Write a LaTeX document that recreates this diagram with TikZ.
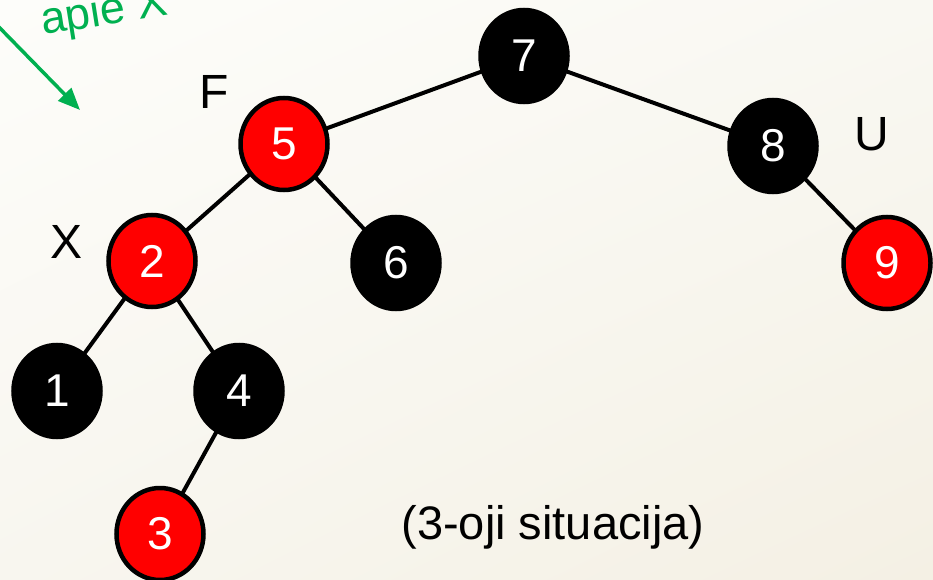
\documentclass[tikz,border=0pt]{standalone}
\usepackage{fontspec}
\setmainfont{Liberation Sans}
\usetikzlibrary{shapes.geometric,arrows.meta,shadings}
\definecolor{bgUL}{HTML}{FDFDFA}
\definecolor{bgUR}{HTML}{F9F8F2}
\definecolor{bgLL}{HTML}{F8F6EF}
\definecolor{bgLR}{HTML}{F4F0E4}
\definecolor{rbred}{HTML}{FF0000}
\definecolor{notegreen}{HTML}{00B050}
\tikzset{
  rbnode/.style={ellipse, minimum width=87pt, minimum height=92pt, inner sep=0pt,
    line width=4.5pt, draw=black, text=white, font=\fontsize{46}{50}\selectfont},
  blacknode/.style={rbnode, fill=black},
  rednode/.style={rbnode, fill=rbred},
  tag/.style={inner sep=0pt, font=\fontsize{48}{52}\selectfont, text=black},
  treeedge/.style={line width=4pt, draw=black},
  noteedge/.style={line width=3.5pt, draw=notegreen, -{Triangle[length=22pt,width=18pt]}}
}
\begin{document}
\begin{tikzpicture}[x=1pt,y=-1pt]
\useasboundingbox (0,0) rectangle (933,580);
\shade[upper left=bgUL, upper right=bgUR, lower left=bgLL, lower right=bgLR] (0,0) rectangle (933,580);
% tree edges drawn first
\coordinate (c7) at (524,56);
\coordinate (c5) at (284,144);
\coordinate (c8) at (773,146);
\coordinate (c2) at (152,261);
\coordinate (c6) at (396,263);
\coordinate (c9) at (887,263);
\coordinate (c1) at (57,391);
\coordinate (c4) at (239,391);
\coordinate (c3) at (160,534);
\draw[treeedge] (c7) -- (c5);
\draw[treeedge] (c7) -- (c8);
\draw[treeedge] (c5) -- (c2);
\draw[treeedge] (c5) -- (c6);
\draw[treeedge] (c8) -- (c9);
\draw[treeedge] (c2) -- (c1);
\draw[treeedge] (c2) -- (c4);
\draw[treeedge] (c4) -- (c3);
% nodes
\node[blacknode] (n7) at (c7) {7};
\node[rednode]   (n5) at (c5) {5};
\node[blacknode] (n8) at (c8) {8};
\node[rednode]   (n2) at (c2) {2};
\node[blacknode] (n6) at (c6) {6};
\node[rednode]   (n9) at (c9) {9};
\node[blacknode] (n1) at (c1) {1};
\node[blacknode] (n4) at (c4) {4};
\node[rednode]   (n3) at (c3) {3};
% labels
\node[tag] (lF) at (214,92) {F};
\node[tag] (lU) at (872,134) {U};
\node[tag] (lX) at (67,242) {X};
\node[inner sep=0pt, font=\fontsize{47}{52}\selectfont] (cap) at (553,527) {(3-oji situacija)};
% green note
\node[inner sep=0pt, anchor=base west, rotate=9, text=notegreen, font=\fontsize{45}{50}\selectfont] (note) at (43,35) {apie X};
\coordinate (arrS) at (-6,22);
\coordinate (arrE) at (80,110);
\draw[noteedge] (arrS) -- (arrE);
\end{tikzpicture}
\end{document}
